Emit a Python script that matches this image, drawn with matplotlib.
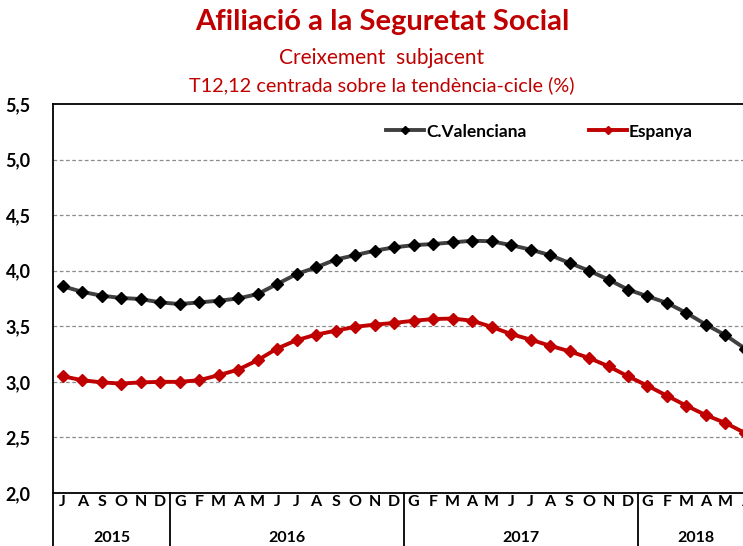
import matplotlib
matplotlib.use('Agg')
import numpy as np
from matplotlib import pyplot as plt
from matplotlib import transforms

plt.rcParams['font.family'] = ['Lato', 'DejaVu Sans']

months = ['J', 'A', 'S', 'O', 'N', 'D',
          'G', 'F', 'M', 'A', 'M', 'J', 'J', 'A', 'S', 'O', 'N', 'D',
          'G', 'F', 'M', 'A', 'M', 'J', 'J', 'A', 'S', 'O', 'N', 'D',
          'G', 'F', 'M', 'A', 'M', 'J']
years = ['2015', '2016', '2017', '2018']
year_start = [0, 6, 18, 30]
year_end = [5, 17, 29, 35]

valenciana = [3.86, 3.81, 3.775, 3.755, 3.745, 3.715,
              3.70, 3.715, 3.73, 3.75, 3.79, 3.88, 3.97, 4.03, 4.10, 4.14, 4.18, 4.21,
              4.23, 4.24, 4.255, 4.27, 4.265, 4.23, 4.19, 4.14, 4.07, 4.00, 3.92, 3.83,
              3.77, 3.71, 3.62, 3.515, 3.42, 3.30]
espanya = [3.05, 3.015, 2.995, 2.985, 2.995, 3.00,
           3.00, 3.015, 3.06, 3.11, 3.195, 3.30, 3.375, 3.425, 3.46, 3.495, 3.515, 3.53,
           3.55, 3.565, 3.57, 3.55, 3.495, 3.43, 3.38, 3.325, 3.275, 3.215, 3.14, 3.05,
           2.965, 2.875, 2.785, 2.70, 2.63, 2.54]

yticks = [2.0, 2.5, 3.0, 3.5, 4.0, 4.5, 5.0, 5.5]

RED = '#C00000'

fig = plt.figure(figsize=(7.43, 5.46), dpi=100)
ax = fig.add_axes([53 / 743, 53 / 546, 690 / 743, 389 / 546])

x = np.arange(len(months))
ax.plot(x, valenciana, color='#404040', lw=2.8, marker='D', ms=5.8,
        mfc='black', mec='black', label='C.Valenciana')
ax.plot(x, espanya, color=RED, lw=2.8, marker='D', ms=5.8,
        mfc=RED, mec=RED, label='Espanya')

ax.set_xlim(-0.5, 34.9)
ax.set_ylim(2.0, 5.5)
ax.set_yticks(yticks)
ax.set_yticklabels([('%.1f' % v).replace('.', ',') for v in yticks],
                   fontsize=13, fontweight='bold')
ax.tick_params(axis='y', length=0, pad=16)
ax.set_xticks([])
for v in yticks[1:-1]:
    ax.axhline(v, color='#8c8c8c', lw=0.9, ls=(0, (3, 2)), zorder=0)

ax.spines['right'].set_visible(False)
for s in ['top', 'bottom', 'left']:
    ax.spines[s].set_linewidth(1.3)
    ax.spines[s].set_color('black')

# category axis: months, years and separators
trans = transforms.blended_transform_factory(ax.transData, ax.transAxes)
low = -53 / 389
for i, m in enumerate(months):
    ax.text(i, -9 / 389, m, transform=trans, ha='center', va='center',
            fontsize=11.5, fontweight='bold', clip_on=False)
for yr, a, b in zip(years, year_start, year_end):
    ax.text((a + b) / 2, -45 / 389, yr, transform=trans, ha='center',
            va='center', fontsize=11.5, fontweight='bold', clip_on=False)
for b in year_end[:-1]:
    ax.plot([b + 0.5, b + 0.5], [0, low], transform=trans, color='black',
            lw=1.3, clip_on=False)
ax.plot([-0.5, -0.5], [0, low], transform=trans, color='black', lw=1.3,
        clip_on=False)

ax.legend(loc='upper left', bbox_to_anchor=(0.46, 0.99), ncol=2,
          frameon=False, handlelength=2.2, handletextpad=0.1,
          columnspacing=3.6, prop={'weight': 'bold', 'size': 12.5},
          markerscale=0.75)

fig.text(382 / 743, 1 - 22 / 546, 'Afiliació a la Seguretat Social',
         ha='center', va='center', fontsize=21, fontweight='bold', color=RED)
fig.text(382 / 743, 1 - 58 / 546, 'Creixement  subjacent',
         ha='center', va='center', fontsize=15, color=RED)
fig.text(382 / 743, 1 - 85 / 546, 'T12,12 centrada sobre la tendència-cicle (%)',
         ha='center', va='center', fontsize=14.3, color=RED)

fig.savefig('out.png', dpi=100)
